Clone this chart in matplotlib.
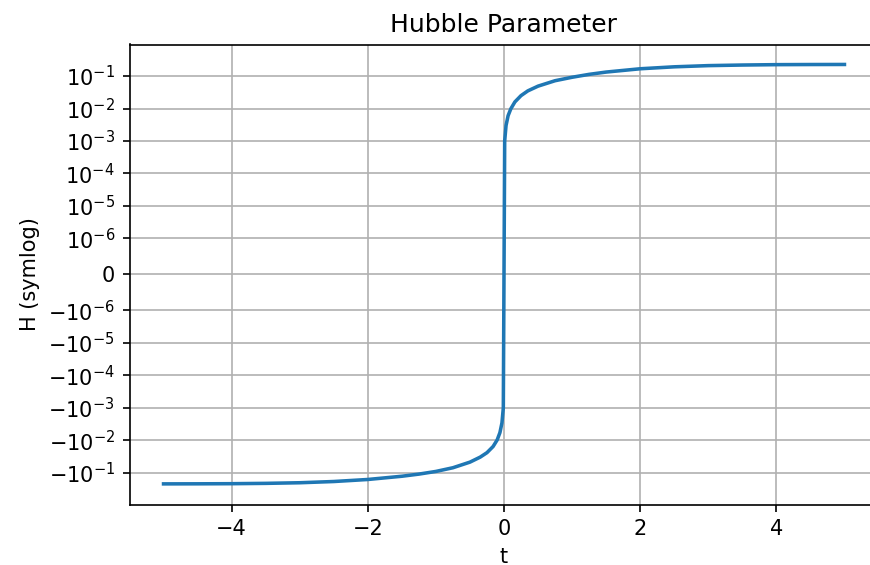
import matplotlib
matplotlib.use("Agg")
import matplotlib.pyplot as plt
from matplotlib.ticker import NullLocator, FixedLocator

t = [-5, -4.5, -4, -3.5, -3, -2.5, -2, -1.5, -1.25, -1, -0.75, -0.5, -0.35,
     -0.25, -0.16, -0.1, -0.06, -0.03, -0.01, 0, 0.01, 0.03, 0.06, 0.1, 0.16,
     0.25, 0.35, 0.5, 0.75, 1, 1.25, 1.5, 2, 2.5, 3, 3.5, 4, 4.5, 5]
H = [-0.22, -0.219, -0.217, -0.212, -0.203, -0.186, -0.161, -0.128, -0.11,
     -0.091, -0.07, -0.047, -0.033, -0.024, -0.0155, -0.0097, -0.0058, -0.0029,
     -0.001, 0, 0.001, 0.003, 0.006, 0.0098, 0.016, 0.025, 0.035, 0.049, 0.072,
     0.092, 0.113, 0.133, 0.168, 0.193, 0.21, 0.219, 0.225, 0.227, 0.228]

yticks = [-1e-1, -1e-2, -1e-3, -1e-4, -1e-5, -1e-6, 0,
          1e-6, 1e-5, 1e-4, 1e-3, 1e-2, 1e-1]

title = "Hubble Parameter"
xlabel = "t"
ylabel = "H (symlog)"

W, Hpx, dpi = 870, 565, 150
fig = plt.figure(figsize=(W / dpi, Hpx / dpi), dpi=dpi)
ax = fig.add_axes([129.5 / W, (Hpx - 504.5) / Hpx, (878.5 - 129.5) / W, (504.5 - 44.5) / Hpx])
ax.plot(t, H, color="#1f77b4", linewidth=1.7)
ax.set_yscale("symlog", linthresh=1e-6)
ax.set_ylim(-0.95, 0.94)
ax.yaxis.set_major_locator(FixedLocator(yticks))
ax.yaxis.set_minor_locator(NullLocator())
ax.set_title(title)
ax.set_xlabel(xlabel)
ax.set_ylabel(ylabel)
ax.grid(True)
fig.savefig("out.png", dpi=dpi)
